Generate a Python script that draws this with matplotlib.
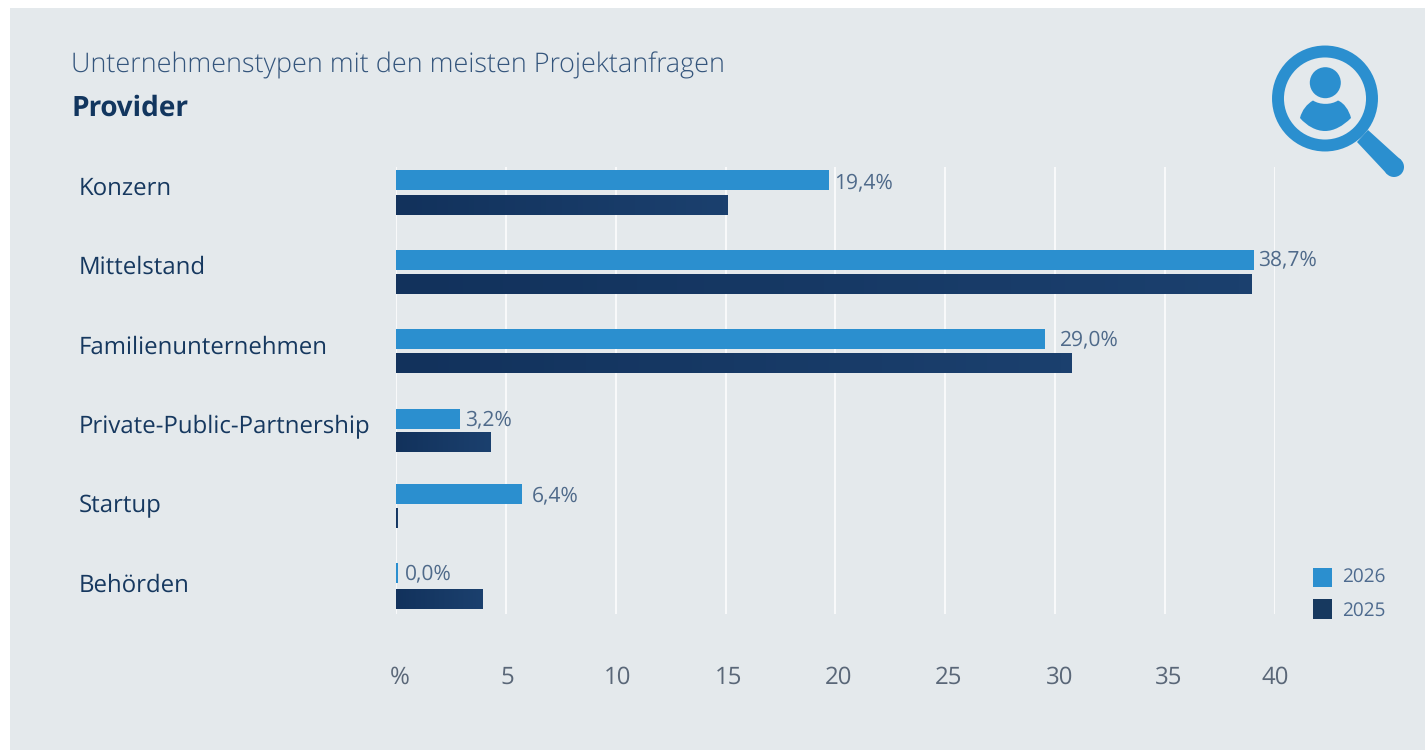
import matplotlib
matplotlib.use('Agg')
import matplotlib.pyplot as plt
import numpy as np
from matplotlib.patches import Circle, PathPatch, Polygon, Rectangle
from matplotlib.path import Path
from matplotlib.transforms import ScaledTranslation

categories = ['Konzern', 'Mittelstand', 'Familienunternehmen',
              'Private-Public-Partnership', 'Startup', 'Behörden']
values_2026 = [19.7, 39.05, 29.55, 2.9, 5.75, 0.1]
values_2025 = [15.1, 38.95, 30.75, 4.3, 0.08, 3.95]
value_labels = ['19,4%', '38,7%', '29,0%', '3,2%', '6,4%', '0,0%']
tick_values = [0, 5, 10, 15, 20, 25, 30, 35, 40]
tick_labels = ['%', '5', '10', '15', '20', '25', '30', '35', '40']
series_names = ['2026', '2025']

# layout, in pixels of the 1425x750 picture
row_2026 = [180, 260, 339, 419, 494, 573]
row_2025 = [205, 283.5, 363, 442, 518, 599]
label_rows = [189, 268, 347.5, 426, 506, 586]
value_rows = [183, 260, 340, 420, 496, 574]
value_gaps = [5, 4, 15, 5, 9, 7]
tick_shift = [4, 1, 2, 3, 3, 3, 4, 4, 0]

LIGHT = '#2b8fcf'
DARK = '#17395f'
BG = '#e4e9ec'
NAVY = '#16385f'

plt.rcParams['font.family'] = ['Open Sans', 'DejaVu Sans']
plt.rcParams['text.hinting'] = 'no_hinting'
plt.rcParams['text.hinting_factor'] = 1

W, H = 1425, 750
fig = plt.figure(figsize=(W / 100, H / 100), dpi=100, facecolor='white')

# full picture overlay for panel, titles, icon and legend
back = fig.add_axes([0, 0, 1, 1], zorder=0)
back.set_xlim(0, W)
back.set_ylim(H, 0)
back.axis('off')
back.add_patch(Rectangle((10, 8), W - 10, H - 8, facecolor=BG, edgecolor='none'))

back.text(71, 65, 'Unternehmenstypen mit den meisten Projektanfragen', fontsize=19.5,
          fontweight='light', color='#34557c', va='center')
back.text(71, 108, 'Provider', fontsize=20.1, fontweight='bold', color='#12365f', va='center')

for name, y in zip(categories, label_rows):
    back.text(78.5, y, name, fontsize=17.4, color=NAVY, va='center')

# plot area
left, right, top, bottom = 396, 1275, 167, 614
ax = fig.add_axes([left / W, 1 - bottom / H, (right - left) / W, (bottom - top) / H], zorder=1)
ax.patch.set_alpha(0)

ax.barh(row_2026, values_2026, height=20, color=LIGHT, zorder=3)
dark_bars = ax.barh(row_2025, values_2025, height=20, color=DARK, zorder=3)

# the dark bars fade a little to the right
fade = matplotlib.colors.LinearSegmentedColormap.from_list('fade', ['#12325c', '#1b406e'])
for bar in dark_bars:
    im = ax.imshow(np.linspace(0, 1, 64).reshape(1, -1), cmap=fade, aspect='auto', zorder=4,
                   extent=(bar.get_x(), bar.get_x() + bar.get_width(),
                           bar.get_y() + bar.get_height(), bar.get_y()))
    im.set_clip_path(bar)

for val, text, y, gap in zip(values_2026, value_labels, value_rows, value_gaps):
    ax.annotate(text, (val, y), xytext=(gap * 0.72, 0), textcoords='offset points',
                fontsize=15.1, color='#4f6a8a', va='center', ha='left', zorder=5)

ax.set_xlim(0, 40)
ax.set_ylim(bottom, top)
ax.set_yticks([])
ax.set_xticks(tick_values)
ax.set_xticklabels(tick_labels, fontsize=17.5, color='#5a6778')
ax.tick_params(axis='x', length=0, pad=37)
for label, shift in zip(ax.get_xticklabels(), tick_shift):
    label.set_transform(label.get_transform() + ScaledTranslation(shift / 100, 0, fig.dpi_scale_trans))
ax.grid(axis='x', color='white', linewidth=1.1, zorder=1)
ax.set_axisbelow(True)
for side in ax.spines:
    ax.spines[side].set_visible(False)

# legend
for name, color, y0, y1, ty in zip(series_names, [LIGHT, DARK], [568, 599], [587, 619], [577, 611]):
    back.add_patch(Rectangle((1313, y0), 19, y1 - y0, facecolor=color, edgecolor='none'))
    back.text(1342, ty, name, fontsize=13.8, color='#4d6a8e', va='center')

# magnifier icon
back.add_patch(Circle((1325, 98.5), 47, facecolor='none', edgecolor=LIGHT, linewidth=8.6))
back.add_patch(Circle((1325.3, 82.7), 15.5, facecolor=LIGHT, edgecolor='none'))
back.add_patch(Polygon([(1368, 130), (1401, 160), (1387, 174), (1357, 142)],
                       facecolor=LIGHT, edgecolor='none'))
back.add_patch(Circle((1394, 167), 10, facecolor=LIGHT, edgecolor='none'))
body = Path([(1300, 118), (1302, 110), (1307, 104), (1313, 100.5),
             (1320, 105), (1331, 105), (1338, 100.5),
             (1344, 103), (1349, 110), (1351, 118),
             (1343, 126), (1334, 131), (1325, 131),
             (1316, 131), (1307, 126), (1300, 118)],
            [Path.MOVETO] + [Path.CURVE4] * 15)
back.add_patch(PathPatch(body, facecolor=LIGHT, edgecolor='none'))

fig.savefig('out.png', dpi=100, facecolor='white')
